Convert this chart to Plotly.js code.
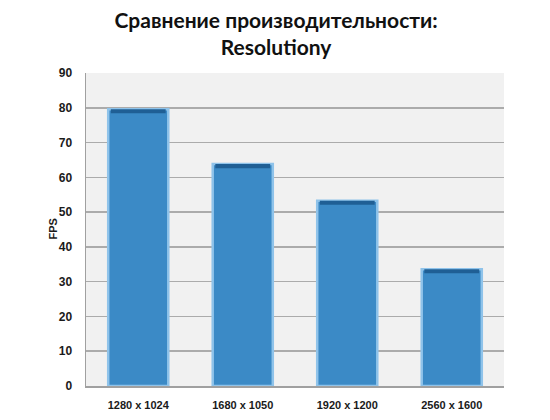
<!DOCTYPE html>
<html>
<head>
<meta charset="utf-8">
<script src="https://cdn.plot.ly/plotly-3.0.1.min.js"></script>
<style>html,body{margin:0;padding:0;background:#fff;}#chart{width:550px;height:420px;}</style>
</head>
<body>
<div id="chart"></div>
<script>
var categories = ['1280 x 1024', '1680 x 1050', '1920 x 1200', '2560 x 1600'];
var fps = [79.6, 63.8, 53.3, 33.6];
var yTicks = [0, 10, 20, 30, 40, 50, 60, 70, 80, 90];
var capDepth = 1.2;

var capBase = fps.map(function (v) { return v - capDepth; });
var capLen = fps.map(function () { return capDepth; });

var traces = [
  {
    type: 'bar', x: categories, y: fps, width: 0.575,
    marker: { color: '#3b8ac6', line: { color: '#8fc3ea', width: 2.5 } },
    hoverinfo: 'x+y'
  },
  {
    type: 'bar', x: categories, y: capLen, base: capBase, width: 0.525,
    marker: { color: '#1f5f95', line: { width: 0 } },
    hoverinfo: 'skip'
  }
];

var layout = {
  width: 550, height: 420,
  margin: { l: 86, r: 46, t: 73, b: 34, pad: 0 },
  paper_bgcolor: '#ffffff',
  plot_bgcolor: '#f1f1f1',
  showlegend: false,
  barmode: 'overlay',
  title: {
    text: '<b>Сравнение производительности:<br>Resolutiony</b>',
    font: { family: 'Lato, "Open Sans", sans-serif', size: 21, color: '#111111' },
    xref: 'container', x: 0.502, xanchor: 'center',
    yref: 'container', y: 0.933, yanchor: 'top'
  },
  xaxis: {
    type: 'category',
    showgrid: false,
    showline: true, linecolor: '#a0a0a0', linewidth: 1.5,
    ticks: '', ticklabelstandoff: 8,
    tickfont: { family: '"Liberation Sans", Arial, sans-serif', size: 11, color: '#1a1a1a', weight: 'bold' }
  },
  yaxis: {
    range: [0, 90], tickvals: yTicks, ticktext: yTicks.map(String),
    showgrid: true, gridcolor: '#ababab', gridwidth: 1.6,
    showline: true, linecolor: '#a0a0a0', linewidth: 1.5,
    zeroline: false,
    ticks: '', ticklabelstandoff: 10,
    tickfont: { family: '"Liberation Sans", Arial, sans-serif', size: 12, color: '#1a1a1a', weight: 'bold' }
  },
  annotations: [{
    text: '<b>FPS</b>', textangle: -90, showarrow: false,
    xref: 'paper', yref: 'paper', x: -0.0813, y: 0.5, xanchor: 'center', yanchor: 'middle',
    font: { family: '"Liberation Sans", Arial, sans-serif', size: 11, color: '#1a1a1a' }
  }]
};

Plotly.newPlot('chart', traces, layout, { displayModeBar: false, staticPlot: true });
</script>
</body>
</html>
